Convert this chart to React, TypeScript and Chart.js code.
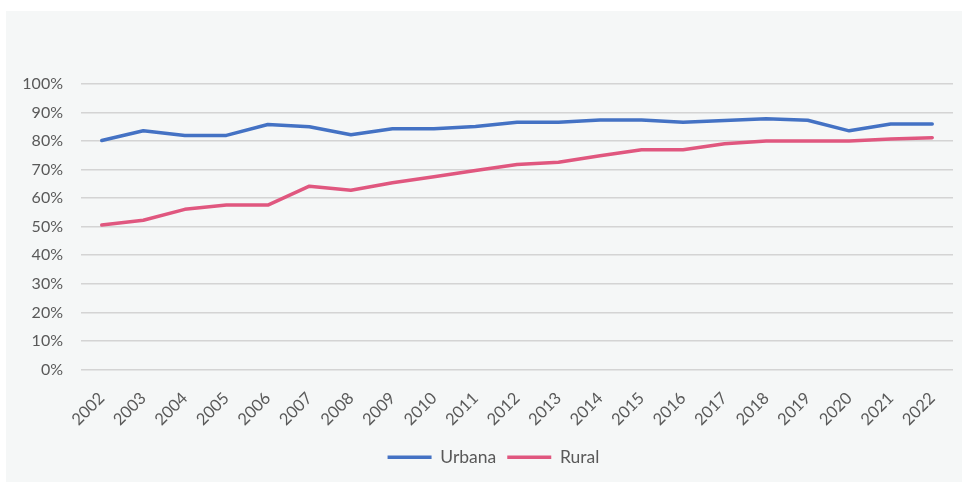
import React, { useEffect, useRef } from "react";
import { Chart, registerables } from "chart.js";

Chart.register(...registerables);

const years = [
  "2002", "2003", "2004", "2005", "2006", "2007", "2008", "2009", "2010", "2011",
  "2012", "2013", "2014", "2015", "2016", "2017", "2018", "2019", "2020", "2021", "2022",
];
const urbana = [
  80.2, 83.6, 82.0, 82.0, 85.8, 85.0, 82.2, 84.3, 84.3, 85.1,
  86.6, 86.6, 87.4, 87.4, 86.6, 87.2, 87.8, 87.3, 83.6, 86.0, 86.0,
];
const rural = [
  50.6, 52.3, 56.1, 57.6, 57.6, 64.2, 62.8, 65.4, 67.5, 69.7,
  71.8, 72.6, 74.9, 77.0, 77.0, 79.1, 80.0, 80.0, 80.0, 80.7, 81.2,
];
const seriesNames = ["Urbana", "Rural"];
const seriesColors = ["#4472C4", "#E0577F"];

export default function App() {
  const ref = useRef<HTMLCanvasElement | null>(null);
  useEffect(() => {
    if (!ref.current) return;
    const textColor = "#595959";
    const family = "Lato, 'Open Sans', sans-serif";
    const shiftLegend = {
      id: "shiftLegend",
      afterLayout(chart: any) {
        if (chart.legend) chart.legend.left += 34;
      },
    };
    const chart = new Chart(ref.current, {
      type: "line",
      data: {
        labels: years,
        datasets: [urbana, rural].map((d, i) => ({
          label: seriesNames[i],
          data: d,
          borderColor: seriesColors[i],
          backgroundColor: seriesColors[i],
          borderWidth: 3.5,
          borderCapStyle: "round" as const,
          borderJoinStyle: "round" as const,
          pointRadius: 0,
          pointHoverRadius: 0,
          pointStyle: "line" as const,
          tension: 0,
        })),
      },
      plugins: [shiftLegend],
      options: {
        responsive: false,
        animation: false,
        layout: { padding: { left: 0, right: 17, top: 84, bottom: 6 } },
        plugins: {
          tooltip: { enabled: false },
          legend: {
            position: "bottom",
            labels: {
              usePointStyle: true,
              pointStyleWidth: 44,
              padding: 11,
              color: textColor,
              font: { family, size: 17.5 },
            },
          },
        },
        scales: {
          x: {
            offset: true,
            grid: { display: false },
            border: { display: false },
            ticks: {
              color: textColor,
              font: { family, size: 16.5 },
              maxRotation: 45,
              minRotation: 45,
              padding: 11,
              autoSkip: false,
            },
            afterFit: (s: any) => {
              s.height = 68;
            },
          },
          y: {
            min: 0,
            max: 100,
            border: { display: false },
            grid: { color: "#D4D4D4", lineWidth: 1.6, drawTicks: false },
            ticks: {
              stepSize: 10,
              color: textColor,
              font: { family, size: 16 },
              padding: 18,
              callback: (v: any) => v + "%",
            },
            afterFit: (s: any) => {
              s.width = 81;
            },
          },
        },
      },
    });
    return () => chart.destroy();
  }, []);
  return (
    <div style={{ position: "fixed", left: 0, top: 0, width: 970, height: 482, background: "#FFFFFF" }}>
      <div style={{ position: "absolute", left: 6, top: 11, width: 956, height: 471, background: "#F5F7F7" }} />
      <canvas
        ref={ref}
        width={970}
        height={482}
        style={{ position: "absolute", left: 0, top: 0, width: 970, height: 482 }}
      />
    </div>
  );
}
